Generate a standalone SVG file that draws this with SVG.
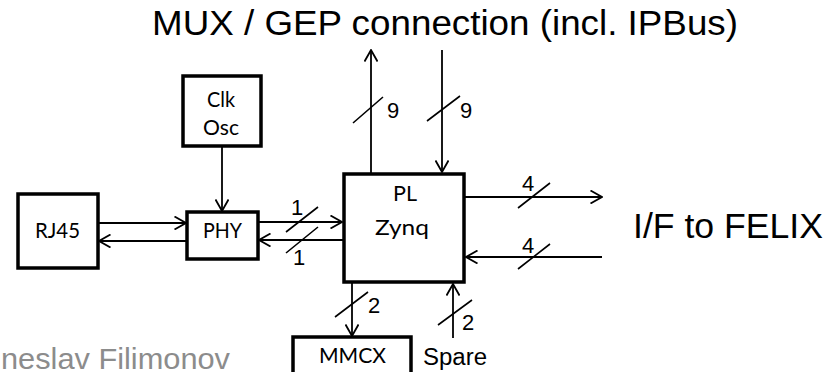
<svg xmlns="http://www.w3.org/2000/svg" width="839" height="372" viewBox="0 0 839 372">
<style>
.box{fill:#fff;stroke:#000;stroke-width:3.5}
.ln{fill:none;stroke:#000;stroke-width:1.8}
.sl{fill:none;stroke:#000;stroke-width:1.6}
.lbl{font-family:Lato,"Liberation Sans",sans-serif;font-size:22px;fill:#000}
.num{font-family:"Liberation Sans",Arial,sans-serif;font-size:22px;fill:#000}
.big{font-family:"Liberation Sans",Arial,sans-serif;fill:#000}
</style>
<defs>
<marker id="ah" viewBox="0 0 13 14" refX="12" refY="7" markerWidth="13" markerHeight="14" markerUnits="userSpaceOnUse" orient="auto">
<path d="M0.5,0.5 L12,7 L0.5,13.5" fill="none" stroke="#000" stroke-width="1.8"/>
</marker>
</defs>
<rect width="839" height="372" fill="#fff"/>
<text class="big" x="152" y="35" font-size="35" textLength="586" lengthAdjust="spacingAndGlyphs">MUX / GEP connection (incl. IPBus)</text>
<text class="big" x="633" y="238" font-size="35" textLength="190" lengthAdjust="spacingAndGlyphs">I/F to FELIX</text>
<text x="1" y="369" font-family="Liberation Sans, Arial, sans-serif" font-size="30" fill="#8c8c8c" textLength="229" lengthAdjust="spacingAndGlyphs">neslav Filimonov</text>
<text class="big" x="423" y="365" font-size="23" textLength="64" lengthAdjust="spacingAndGlyphs">Spare</text>
<g id="connectors">
<path class="ln" d="M222,147 L222,211" marker-end="url(#ah)"/>
<path class="ln" d="M98,223 L186,223" marker-end="url(#ah)"/>
<path class="ln" d="M187,241 L99,241" marker-end="url(#ah)"/>
<path class="ln" d="M258,222 L342,222" marker-end="url(#ah)"/>
<path class="ln" d="M343,240 L259,240" marker-end="url(#ah)"/>
<path class="ln" d="M371,173 L371,50" marker-end="url(#ah)"/>
<path class="ln" d="M442,50 L442,172" marker-end="url(#ah)"/>
<path class="ln" d="M465,197 L602,197" marker-end="url(#ah)"/>
<path class="ln" d="M602,257 L466,257" marker-end="url(#ah)"/>
<path class="ln" d="M352,283 L352,336" marker-end="url(#ah)"/>
<path class="ln" d="M453,338 L453,284" marker-end="url(#ah)"/>
<path class="sl" d="M353,123 L383,97 M427,121 L460,96 M286,232 L318,207 M286,253 L318,227 M518,208 L550,183 M518,269 L550,244 M335,317 L368,292 M438,325 L472,300"/>
<text class="num" x="387" y="118">9</text>
<text class="num" x="460" y="118">9</text>
<text class="num" x="291" y="215">1</text>
<text class="num" x="293" y="265">1</text>
<text class="num" x="522" y="191">4</text>
<text class="num" x="522" y="253">4</text>
<text class="num" x="368" y="313">2</text>
<text class="num" x="462" y="330">2</text>
</g>
<g id="clk"><rect class="box" x="183" y="76" width="78" height="70"/><text class="lbl" x="207" y="107" textLength="28" lengthAdjust="spacingAndGlyphs">Clk</text><text class="lbl" x="203" y="135" textLength="36" lengthAdjust="spacingAndGlyphs">Osc</text></g>
<g id="rj45"><rect class="box" x="18" y="194" width="80" height="74"/><text class="lbl" x="35" y="238" textLength="45" lengthAdjust="spacingAndGlyphs">RJ45</text></g>
<g id="phy"><rect class="box" x="187" y="212" width="71" height="47"/><text class="lbl" x="203" y="238" textLength="39" lengthAdjust="spacingAndGlyphs">PHY</text></g>
<g id="zynq"><rect class="box" x="344" y="174" width="120" height="108"/><text class="lbl" x="393" y="201" font-size="20" textLength="24" lengthAdjust="spacingAndGlyphs">PL</text><text class="lbl" x="375" y="235" font-size="21" textLength="54" lengthAdjust="spacingAndGlyphs">Zynq</text></g>
<g id="mmcx"><rect class="box" x="293" y="337" width="118" height="50"/><text class="lbl" x="319" y="363" font-size="21" textLength="67" lengthAdjust="spacingAndGlyphs">MMCX</text></g>
</svg>
